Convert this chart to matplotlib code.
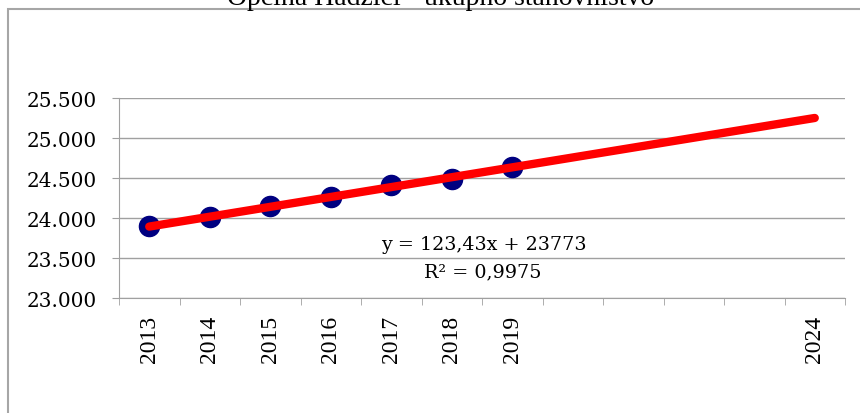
import matplotlib.pyplot as plt
from matplotlib.patches import Rectangle
from matplotlib.ticker import FuncFormatter, FixedLocator

# podaci sa grafika
godine = ["2013", "2014", "2015", "2016", "2017", "2018", "2019",
          "", "", "", "", "2024"]
stanovnistvo = [23900, 24012, 24150, 24262, 24416, 24491, 24637]
nagib = 123.43
odsjecak = 23773
r2 = "0,9975"

fig = plt.figure(figsize=(8.6, 4.14), dpi=100)
ax = fig.add_axes([119 / 860, 1 - 299.3 / 414, 726 / 860, 200 / 414])

# okvir oko cijelog grafika
fig.patches.append(Rectangle((8 / 860, -0.05), 1.0, 1 - 10 / 414 + 0.05,
                             transform=fig.transFigure, fill=False,
                             edgecolor="#a6a6a6", linewidth=1.5))

x_pod = list(range(len(stanovnistvo)))
ax.plot(x_pod, stanovnistvo, linestyle="none", marker="o", markersize=14.5,
        color="#000080", zorder=3)

# linearni trend, x = 1..12
x_tr = list(range(len(godine)))
y_tr = [nagib * (i + 1) + odsjecak for i in x_tr]
ax.plot(x_tr, y_tr, color="#ff0000", linewidth=6, solid_capstyle="round",
        zorder=4)

ax.set_xlim(-0.5, len(godine) - 0.5)
ax.set_ylim(23000, 25500)
ax.set_yticks(range(23000, 25501, 500))
ax.yaxis.set_major_formatter(
    FuncFormatter(lambda v, p: f"{v:,.0f}".replace(",", ".")))
ax.set_xticks(x_tr)
ax.set_xticklabels(godine, rotation=90, family="Liberation Serif",
                   fontsize=17)
ax.xaxis.set_minor_locator(FixedLocator([i - 0.5 for i in range(len(godine) + 1)]))
ax.tick_params(axis="x", which="major", length=0, pad=12)
ax.tick_params(axis="x", which="minor", length=5, color="#a0a0a0")
ax.tick_params(axis="y", length=5, color="#a0a0a0", pad=11)
for lab in ax.get_yticklabels():
    lab.set_family("DejaVu Serif")
    lab.set_fontsize(14.4)

ax.grid(axis="y", color="#a0a0a0", linewidth=1)
ax.set_axisbelow(True)
for s in ["top", "right"]:
    ax.spines[s].set_visible(False)
for s in ["left", "bottom"]:
    ax.spines[s].set_color("#a0a0a0")

ax.text(0.503, 0.2715, f"y = {str(nagib).replace('.', ',')}x + {odsjecak}",
        transform=ax.transAxes, ha="center", va="center",
        family="DejaVu Serif", fontsize=13.8)
ax.text(0.501, 0.136, f"R² = {r2}", transform=ax.transAxes,
        ha="center", va="center", family="DejaVu Serif", fontsize=13.8)

fig.text(0.512, 1 - 5 / 414, "Općina Hadžići - ukupno stanovništvo",
         ha="center", va="baseline", family="Liberation Serif", fontsize=20)

fig.savefig("out.png", dpi=100)
